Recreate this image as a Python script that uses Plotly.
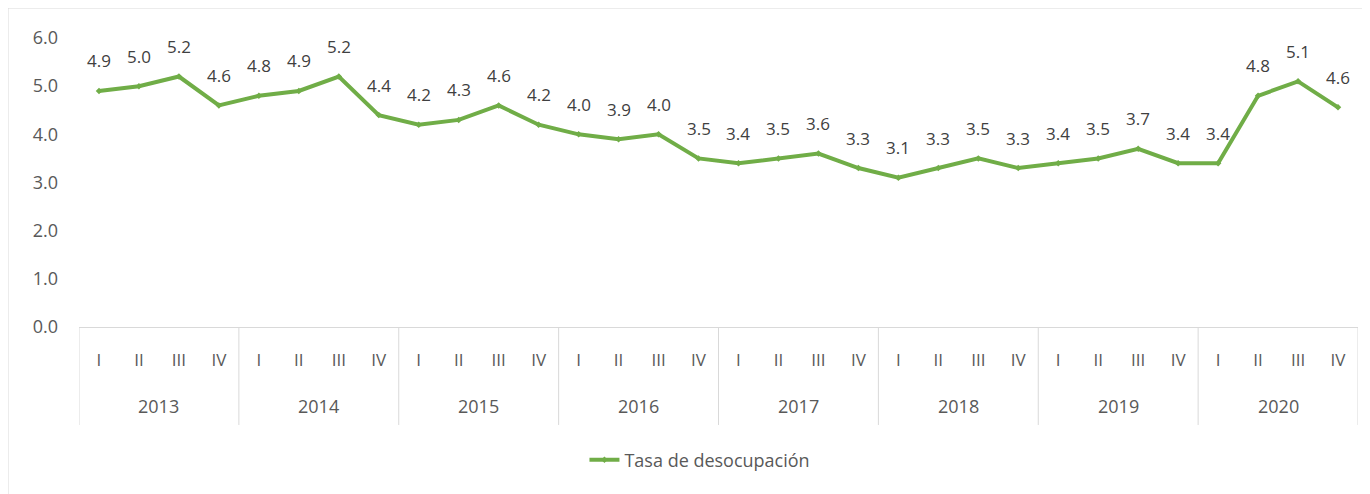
import plotly.graph_objects as go

years = ["2013", "2014", "2015", "2016", "2017", "2018", "2019", "2020"]
quarters = ["I", "II", "III", "IV"]
values = [4.9, 5.0, 5.2, 4.6, 4.8, 4.9, 5.2, 4.4,
          4.2, 4.3, 4.6, 4.2, 4.0, 3.9, 4.0, 3.5,
          3.4, 3.5, 3.6, 3.3, 3.1, 3.3, 3.5, 3.3,
          3.4, 3.5, 3.7, 3.4, 3.4, 4.8, 5.1, 4.56]
series_name = "Tasa de desocupación"
y_ticks = [0, 1, 2, 3, 4, 5, 6]

n_q = len(quarters)
idx = list(range(len(values)))
tick_text = [quarters[i % n_q] for i in idx]

FONT = "Open Sans"
GREEN = "#70ad47"
TXT = "#595959"
GRID = "#d9d9d9"

fig = go.Figure()
fig.add_trace(go.Scatter(
    x=idx,
    y=values,
    mode="lines+markers",
    name=series_name,
    line=dict(color=GREEN, width=4),
    marker=dict(symbol="diamond", size=5, color=GREEN),
    cliponaxis=False,
))

annotations = []
for i, v in zip(idx, values):
    annotations.append(dict(x=i, y=v, xref="x", yref="y", text=f"{v:.1f}",
                            showarrow=False, yshift=30,
                            font=dict(family=FONT, size=17, color="#404040")))
for k, yr in enumerate(years):
    annotations.append(dict(x=k * n_q + (n_q - 1) / 2, xref="x", y=-0.273, yref="paper",
                            text=yr, showarrow=False, yanchor="middle",
                            font=dict(family=FONT, size=18, color=TXT)))

shapes = [dict(type="rect", xref="paper", yref="paper",
               x0=-0.0555, x1=1.05, y0=-0.7, y1=1.1038,
               line=dict(color=GRID, width=1), fillcolor="rgba(0,0,0,0)", layer="below")]
for k in range(len(years) + 1):
    shapes.append(dict(type="line", xref="x", yref="paper",
                       x0=k * n_q - 0.5, x1=k * n_q - 0.5, y0=0, y1=-0.339,
                       line=dict(color=GRID, width=1)))

fig.update_layout(
    width=1370, height=494,
    margin=dict(l=71, r=20, t=30, b=175, autoexpand=False),
    paper_bgcolor="white", plot_bgcolor="white",
    font=dict(family=FONT, size=17, color=TXT),
    showlegend=True,
    legend=dict(orientation="h", x=0.4855, xanchor="center", y=-0.46, yanchor="middle",
                font=dict(family=FONT, size=18, color=TXT)),
    xaxis=dict(
        range=[-0.5, len(values) - 0.5], tickvals=idx, ticktext=tick_text,
        showline=True, linecolor=GRID, linewidth=1, automargin=False,
        showgrid=False, zeroline=False, ticks="", ticklabelstandoff=18,
        tickfont=dict(family=FONT, size=17, color=TXT),
    ),
    yaxis=dict(
        range=[0, 6], tickvals=y_ticks, tickformat=".1f", automargin=False,
        showgrid=False, zeroline=False, showline=False,
        tickfont=dict(family=FONT, size=18, color=TXT), ticklabelstandoff=20,
    ),
    annotations=annotations,
    shapes=shapes,
)

fig.write_html("out.html")
